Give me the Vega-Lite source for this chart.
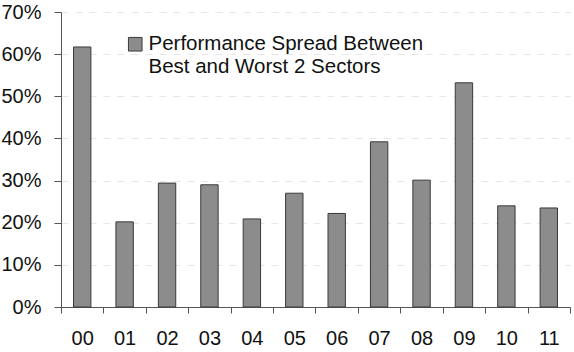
{
  "$schema": "https://vega.github.io/schema/vega-lite/v6.json",
  "width": 509,
  "height": 295,
  "autosize": {"type": "none"},
  "padding": {"left": 61, "top": 12, "right": 4, "bottom": 45},
  "background": "white",
  "config": {
    "view": {"stroke": null},
    "font": "Liberation Sans"
  },
  "data": {
    "values": [
      {"year": "00", "spread": 0.617, "series": "Performance Spread Between Best and Worst 2 Sectors"},
      {"year": "01", "spread": 0.202, "series": "Performance Spread Between Best and Worst 2 Sectors"},
      {"year": "02", "spread": 0.294, "series": "Performance Spread Between Best and Worst 2 Sectors"},
      {"year": "03", "spread": 0.290, "series": "Performance Spread Between Best and Worst 2 Sectors"},
      {"year": "04", "spread": 0.209, "series": "Performance Spread Between Best and Worst 2 Sectors"},
      {"year": "05", "spread": 0.270, "series": "Performance Spread Between Best and Worst 2 Sectors"},
      {"year": "06", "spread": 0.222, "series": "Performance Spread Between Best and Worst 2 Sectors"},
      {"year": "07", "spread": 0.392, "series": "Performance Spread Between Best and Worst 2 Sectors"},
      {"year": "08", "spread": 0.301, "series": "Performance Spread Between Best and Worst 2 Sectors"},
      {"year": "09", "spread": 0.532, "series": "Performance Spread Between Best and Worst 2 Sectors"},
      {"year": "10", "spread": 0.240, "series": "Performance Spread Between Best and Worst 2 Sectors"},
      {"year": "11", "spread": 0.235, "series": "Performance Spread Between Best and Worst 2 Sectors"}
    ]
  },
  "mark": {"type": "bar", "width": {"band": 0.41}, "stroke": "#3a3a3a", "strokeWidth": 1},
  "encoding": {
    "x": {
      "field": "year",
      "type": "ordinal",
      "scale": {"paddingInner": 0, "paddingOuter": 0},
      "axis": {
        "title": null,
        "labelAngle": 0,
        "labelFontSize": 20,
        "labelColor": "#111",
        "labelPadding": 15,
        "tickBand": "extent",
        "tickSize": 6,
        "tickColor": "#555",
        "domainColor": "#555",
        "grid": false
      }
    },
    "y": {
      "field": "spread",
      "type": "quantitative",
      "scale": {"domain": [0, 0.7], "nice": false},
      "axis": {
        "title": null,
        "format": ".0%",
        "values": [0, 0.1, 0.2, 0.3, 0.4, 0.5, 0.6, 0.7],
        "labelFontSize": 20,
        "labelColor": "#111",
        "labelPadding": 13,
        "tickSize": 7,
        "tickColor": "#555",
        "domainColor": "#555",
        "grid": true,
        "gridColor": "#e6e6e6",
        "gridDash": [7, 7],
        "gridWidth": 1
      }
    },
    "fill": {
      "field": "series",
      "type": "nominal",
      "scale": {"range": ["#8c8c8c"]},
      "legend": {
        "title": null,
        "orient": "none",
        "legendX": 64,
        "legendY": 22,
        "padding": 0,
        "symbolType": "square",
        "symbolSize": 185,
        "symbolStrokeColor": "#3a3a3a",
        "symbolStrokeWidth": 1,
        "labelFontSize": 20.5,
        "labelColor": "#111",
        "labelLimit": 400,
        "labelOffset": 3,
        "labelBaseline": "middle",
        "labelExpr": "split(replace('\u00a0\u00a0' + datum.label, ' Best and', '|Best and'), '|')"
      }
    }
  }
}
